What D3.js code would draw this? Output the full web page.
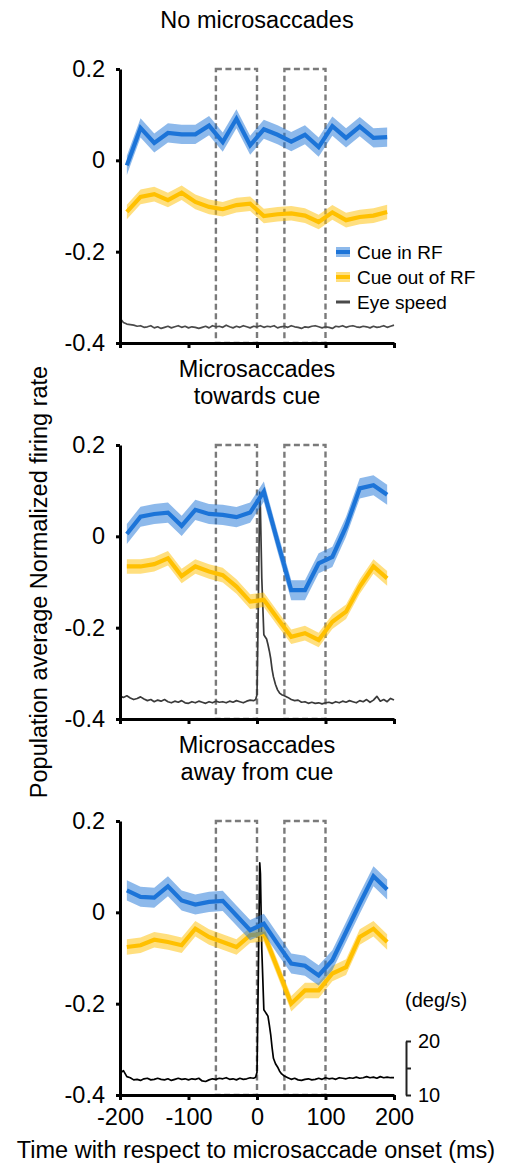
<!DOCTYPE html>
<html>
<head>
<meta charset="utf-8"/>
<script src="https://cdn.jsdelivr.net/npm/d3@7"></script>
<style>
html, body {
  margin: 0;
  background: #fff;
  font-family: "Liberation Sans", Arial, sans-serif;
}
.axis path, .axis line {
  stroke: #000;
  stroke-width: 3;
}
.axis text {
  font-family: "Liberation Sans", Arial, sans-serif;
  font-size: 23.5px;
  fill: #000;
}
.eyeaxis path, .eyeaxis line {
  stroke: #222;
  stroke-width: 2;
}
.eyeaxis text {
  font-family: "Liberation Sans", Arial, sans-serif;
  font-size: 20px;
  fill: #000;
}
.box {
  fill: none;
  stroke: #7a7a7a;
  stroke-width: 2.4;
  stroke-dasharray: 6,3.5;
}
.title {
  font-size: 23.5px;
  text-anchor: middle;
}
</style>
</head>
<body>
<svg id="chart" width="507" height="1165"></svg>

<script type='text/javascript'>

// time of each firing-rate bin (ms)
var binTimes = [-190, -170, -150, -130, -110, -90, -70, -50, -30, -10,
                10, 30, 50, 70, 90, 110, 130, 150, 170, 190];

var panelTitles = [["No microsaccades"], ["Microsaccades", "towards cue"], ["Microsaccades", "away from cue"]];

// normalized firing rate, cue in RF
var inRF_none    = [-0.011, 0.071, 0.038, 0.060, 0.057, 0.057, 0.076, 0.040, 0.091, 0.033,
                     0.068, 0.056, 0.041, 0.056, 0.029, 0.075, 0.049, 0.074, 0.049, 0.051];
var inRF_toward  = [0.005, 0.043, 0.049, 0.052, 0.023, 0.058, 0.049, 0.047, 0.042, 0.052,
                    0.098, -0.012, -0.118, -0.118, -0.059, -0.045, 0.021, 0.105, 0.112, 0.091];
var inRF_away    = [0.048, 0.034, 0.032, 0.057, 0.026, 0.017, 0.023, 0.025, -0.007, -0.039,
                    -0.025, -0.069, -0.112, -0.117, -0.138, -0.105, -0.043, 0.019, 0.079, 0.050];

// normalized firing rate, cue out of RF
var outRF_none   = [-0.113, -0.080, -0.074, -0.087, -0.071, -0.091, -0.102, -0.107, -0.098, -0.095,
                    -0.122, -0.118, -0.116, -0.121, -0.135, -0.114, -0.131, -0.124, -0.121, -0.113];
var outRF_toward = [-0.066, -0.066, -0.061, -0.048, -0.087, -0.066, -0.077, -0.085, -0.110, -0.143,
                    -0.139, -0.180, -0.220, -0.212, -0.227, -0.187, -0.165, -0.110, -0.066, -0.092];
var outRF_away   = [-0.076, -0.072, -0.060, -0.065, -0.072, -0.036, -0.054, -0.065, -0.076, -0.050,
                    -0.047, -0.123, -0.200, -0.171, -0.171, -0.134, -0.120, -0.054, -0.036, -0.065];

// s.e.m. half width of the shaded bands
var semIn  = [0.021, 0.022, 0.022];
var semOut = [0.016, 0.016, 0.017];

// eye speed (deg/s)
var eyeTimesFlat = d3.range(-200, 201, 5);
var eyeTimesSac = d3.range(-200, 0, 5)
    .concat([-2, 0, 2, 4, 5, 7, 10, 12, 14, 16, 18, 20, 22, 24, 27, 30, 33, 36])
    .concat(d3.range(40, 201, 5));

var eye_none = [14.6, 13.8, 13.5, 13.4, 13.3, 13.1, 13.2, 12.9, 13.0, 13.2,
                12.8, 13.0, 12.7, 12.9, 13.1, 12.8, 13.0, 13.2, 12.9, 13.1,
                12.8, 13.0, 12.9, 12.7, 12.9, 13.1, 12.8, 13.2, 13.0, 13.1,
                12.9, 13.3, 13.0, 12.8, 13.1, 12.9, 13.2, 13.0, 12.8, 13.1,
                13.0, 13.2, 12.9, 13.1, 13.0, 13.2, 12.8, 13.0, 13.1, 12.9,
                13.2, 13.0, 12.9, 12.7, 13.0, 12.9, 13.1, 13.2, 13.0, 12.8,
                13.0, 12.9, 12.7, 13.1, 13.0, 13.2, 12.9, 13.1, 13.2, 13.0,
                12.9, 13.1, 13.0, 12.8, 13.1, 12.9, 13.0, 13.2, 12.9, 13.1,
                13.3];
var eye_toward = [14.2, 14.0, 14.3, 13.9, 13.6, 13.8, 14.1, 13.7, 13.4, 13.6,
                  13.2, 13.5, 13.3, 13.6, 13.2, 13.0, 13.3, 13.1, 13.4, 13.0,
                  12.9, 13.2, 13.0, 13.3, 13.1, 12.9, 13.2, 13.0, 13.3, 13.1,
                  13.2, 13.0, 13.3, 13.1, 13.4, 13.2, 13.0, 13.3, 13.5, 13.4,
                  13.6, 14.5, 32, 52, 49, 36, 25.6, 25.2, 24.8, 23.8,
                  22.6, 21.2, 19.2, 17.8, 16.4, 15.4, 14.8, 14.5,
                  14.3, 14.0, 13.6, 13.4, 13.5, 13.1, 13.2, 12.9, 13.1, 12.9,
                  13.0, 12.8, 13.0, 13.1, 12.9, 13.2, 13.0, 13.3, 13.1, 13.4,
                  13.2, 13.0, 13.4, 13.2, 13.6, 13.1, 13.5, 14.2, 13.3, 13.6,
                  13.2, 13.8, 13.5];
var eye_away = [14.0, 14.5, 13.4, 13.2, 12.8, 12.9, 12.7, 13.0, 13.1, 12.8,
                12.9, 13.1, 12.9, 12.8, 13.0, 12.7, 12.9, 13.1, 12.9, 13.0,
                12.8, 13.0, 12.9, 13.1, 12.6, 12.5, 12.8, 13.0, 12.9, 13.1,
                13.0, 13.2, 12.9, 13.0, 12.8, 13.1, 12.9, 13.0, 13.2, 13.1,
                13.3, 14.2, 33, 53, 51, 37, 25.8, 25.4, 25.0, 24.6,
                23.0, 21.2, 18.8, 16.8, 15.8, 15.2, 14.4, 13.9,
                13.5, 13.2, 12.9, 13.1, 12.8, 12.7, 12.9, 13.0, 12.8, 12.9,
                13.1, 12.9, 13.2, 13.0, 13.1, 12.9, 13.2, 13.1, 13.0, 13.2,
                13.1, 13.3, 13.1, 13.2, 13.4, 13.2, 13.3, 13.1, 13.4, 13.2,
                13.3, 13.2, 13.2];

var windows = [[-60, 0], [40, 100]];
var legendLabels = ["Cue in RF", "Cue out of RF", "Eye speed"];

var panels = [
  {inRF: inRF_none,   outRF: outRF_none,   eyeT: eyeTimesFlat, eye: eye_none,   eyeColor: "#4a4a4a"},
  {inRF: inRF_toward, outRF: outRF_toward, eyeT: eyeTimesSac,  eye: eye_toward, eyeColor: "#3a3a3a"},
  {inRF: inRF_away,   outRF: outRF_away,   eyeT: eyeTimesSac,  eye: eye_away,   eyeColor: "#000"}
];

var blue = "#1c74d8", yellow = "#ffc000";

//---------------------------------------
var svg = d3.select("#chart");
var panelTops = [69, 445, 821];
var panelH = 274;

var x = d3.scaleLinear().domain([-200, 200]).range([120, 394]);

function fmt(d) { return String(d); }

panels.forEach(function(p, i) {
  var top = panelTops[i];
  var y = d3.scaleLinear().domain([-0.4, 0.2]).range([top + panelH, top]);
  var yEye = d3.scaleLinear().domain([10, 20]).range([top + panelH, top + panelH - 54]);
  var g = svg.append("g");

  // titles
  panelTitles[i].forEach(function(t, k) {
    g.append("text").attr("class", "title")
      .attr("x", 257).attr("y", top - 41 - (panelTitles[i].length - 1 - k) * 27)
      .text(t);
  });

  // analysis windows
  g.selectAll("rect.box").data(windows).enter().append("rect")
    .attr("class", "box")
    .attr("x", function(d) { return x(d[0]); })
    .attr("y", y(0.2))
    .attr("width", function(d) { return x(d[1]) - x(d[0]); })
    .attr("height", y(-0.4) - y(0.2));

  // eye speed
  var eyeLine = d3.line()
      .x(function(d, j) { return x(p.eyeT[j]); })
      .y(function(d) { return yEye(d); });
  g.append("path").datum(p.eye)
    .attr("fill", "none").attr("stroke", p.eyeColor).attr("stroke-width", 1.7)
    .attr("stroke-linejoin", "round")
    .attr("d", eyeLine);

  // firing rates: out of RF first, then in RF on top
  [[p.outRF, yellow, semOut[i]], [p.inRF, blue, semIn[i]]].forEach(function(s) {
    var area = d3.area()
        .x(function(d, j) { return x(binTimes[j]); })
        .y0(function(d) { return y(d - s[2]); })
        .y1(function(d) { return y(d + s[2]); });
    var line = d3.line()
        .x(function(d, j) { return x(binTimes[j]); })
        .y(function(d) { return y(d); });
    g.append("path").datum(s[0])
      .attr("fill", s[1]).attr("fill-opacity", 0.5)
      .attr("d", area);
    g.append("path").datum(s[0])
      .attr("fill", "none").attr("stroke", s[1]).attr("stroke-width", 4.2)
      .attr("d", line);
  });

  // axes
  g.append("g").attr("class", "axis")
    .attr("transform", "translate(" + x.range()[0] + ",0)")
    .call(d3.axisLeft(y).tickValues([-0.4, -0.2, 0, 0.2]).tickSize(4).tickSizeOuter(0)
      .tickPadding(11).tickFormat(fmt));

  var xAxis = d3.axisBottom(x).tickValues([-200, -100, 0, 100, 200])
      .tickSize(5).tickSizeOuter(0).tickPadding(8).tickFormat(fmt);
  if (i < 2) xAxis.tickFormat("");
  g.append("g").attr("class", "axis")
    .attr("transform", "translate(0," + y(-0.4) + ")")
    .call(xAxis);

  // eye speed scale bar
  if (i == 2) {
    g.append("g").attr("class", "eyeaxis")
      .attr("transform", "translate(406,0)")
      .call(d3.axisRight(yEye).tickValues([10, 15, 20]).tickSize(5).tickSizeOuter(0)
        .tickPadding(7).tickFormat(function(d) { return d == 15 ? "" : d; }));
    g.append("text").attr("x", 405).attr("y", 1007)
      .style("font-size", "20px").text("(deg/s)");
  }

  // legend
  if (i == 0) {
    var lg = g.append("g").attr("transform", "translate(336,252)");
    var items = lg.selectAll("g").data(legendLabels).enter().append("g")
      .attr("transform", function(d, k) { return "translate(0," + (k * 25) + ")"; });
    items.each(function(d, k) {
      var it = d3.select(this);
      if (k < 2) {
        var c = k == 0 ? blue : yellow;
        it.append("rect").attr("x", 0).attr("y", -5).attr("width", 14).attr("height", 10)
          .attr("fill", c).attr("fill-opacity", 0.5);
        it.append("line").attr("x1", 0).attr("x2", 14).attr("stroke", c).attr("stroke-width", 4);
      } else {
        it.append("line").attr("x1", 0).attr("x2", 14).attr("stroke", "#4a4a4a").attr("stroke-width", 3);
      }
      it.append("text").attr("x", 21).attr("dy", "0.35em")
        .style("font-size", "19px").text(d);
    });
  }
});

//---------------------------------------
svg.append("text")
  .attr("transform", "translate(47,582) rotate(-90)")
  .attr("text-anchor", "middle")
  .style("font-size", "23.5px")
  .text("Population average Normalized firing rate");

svg.append("text")
  .attr("x", 256).attr("y", 1158)
  .attr("text-anchor", "middle")
  .style("font-size", "23.5px")
  .text("Time with respect to microsaccade onset (ms)");

</script>
</body>
</html>
